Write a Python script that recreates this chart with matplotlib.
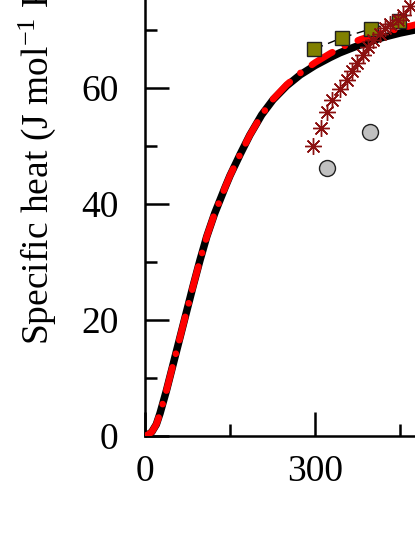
import numpy as np
import matplotlib
matplotlib.use("Agg")
import matplotlib.pyplot as plt
from matplotlib.ticker import MultipleLocator

plt.rcParams['font.family'] = ['Liberation Serif', 'DejaVu Serif']
plt.rcParams['mathtext.fontset'] = 'custom'
plt.rcParams['mathtext.rm'] = 'Liberation Serif'
plt.rcParams['mathtext.it'] = 'Liberation Serif:italic'

# model curve (black solid)
T_model = [0, 5, 12, 20, 26.5, 38, 50, 62, 74, 85, 97, 109, 123, 141, 150, 168, 185, 206, 226,
           250, 274, 300, 327, 344, 370, 391, 420, 450, 480]
cp_model = [0, 0.2, 0.7, 2.0, 3.9, 7.9, 12.5, 17.1, 21.7, 25.9, 30.3, 34.4, 38.4, 42.8, 44.9,
            48.6, 51.9, 55.4, 58.0, 60.4, 62.3, 63.9, 65.3, 66.1, 67.1, 67.85, 68.75, 69.5, 70.1]

# second model (red dash-dot)
T_red = [0, 5, 12, 20, 26.5, 38, 50, 62, 74, 85, 97, 109, 123, 141, 150, 168, 185, 206, 226,
         250, 274, 300, 327, 350, 380, 410, 450, 480]
cp_red = [0, 0.2, 0.7, 2.0, 3.9, 7.9, 12.5, 17.1, 21.7, 25.9, 30.3, 34.4, 38.4, 42.8, 44.9,
          48.6, 51.9, 55.4, 58.1, 60.6, 62.6, 64.4, 66.0, 67.2, 68.4, 69.3, 70.3, 71.0]

# olive squares
T_sq = [298, 348, 398, 448]
cp_sq = [66.7, 68.7, 70.2, 71.6]

# gray circles
T_circ = [321, 397]
cp_circ = [46.2, 52.4]

# dark red asterisks
T_ast = [296, 310, 321, 329.5, 344, 356, 366, 375, 385, 394, 403, 415, 423.5, 432, 446, 456, 468]
cp_ast = [50.1, 53.2, 55.9, 57.9, 59.9, 61.4, 62.9, 64.4, 65.8, 67.1, 68.3, 69.4, 70.3, 71.0, 71.8, 72.6, 74.1]

W, H = 415, 537
fig = plt.figure(figsize=(W / 100, H / 100), dpi=100)
ax = fig.add_axes([145 / W, (H - 436) / H, (W - 145) / W, 436 / H])

ax.plot(T_model, cp_model, color='black', lw=5.4, solid_capstyle='round',
        solid_joinstyle='round', zorder=2)
ax.plot(T_red, cp_red, color='red', lw=4.8, dash_capstyle='round', dash_joinstyle='round',
        linestyle=(0, (3.6, 2.1, 0.01, 2.1)), zorder=3)
ax.plot(T_sq, cp_sq, color='black', lw=1.0, linestyle=(0, (7, 4)),
        marker='s', markersize=9.5, markerfacecolor='#808000',
        markeredgecolor='#202020', markeredgewidth=1.0, zorder=4)
ax.plot(T_circ, cp_circ, linestyle='none', marker='o', markersize=11.5,
        markerfacecolor='#c0c0c0', markeredgecolor='#202020',
        markeredgewidth=1.0, zorder=5)
ax.plot(T_ast, cp_ast, linestyle='none', marker=(8, 2, 0), markersize=12,
        markeredgecolor='#8b1010', markeredgewidth=1.0, zorder=6)

ax.set_xlim(0, 476.5)
ax.set_ylim(0, 75.2)
ax.xaxis.set_major_locator(MultipleLocator(300))
ax.xaxis.set_minor_locator(MultipleLocator(150))
ax.yaxis.set_major_locator(MultipleLocator(20))
ax.yaxis.set_minor_locator(MultipleLocator(10))

for side in ['top', 'right']:
    ax.spines[side].set_visible(False)
for side in ['left', 'bottom']:
    ax.spines[side].set_linewidth(1.8)

ax.tick_params(which='both', direction='in', width=1.8, labelsize=27)
ax.tick_params(which='major', length=17)
ax.tick_params(which='minor', length=8.6)
ax.tick_params(axis='y', which='major', pad=19)
ax.tick_params(axis='x', which='major', pad=13)

fig.text(37 / W, (H - 345) / H, 'Specific heat (J mol$^{-1}$ K$^{-1}$)',
         rotation=90, ha='center', va='bottom', fontsize=27)

fig.savefig('out.png', dpi=100)
